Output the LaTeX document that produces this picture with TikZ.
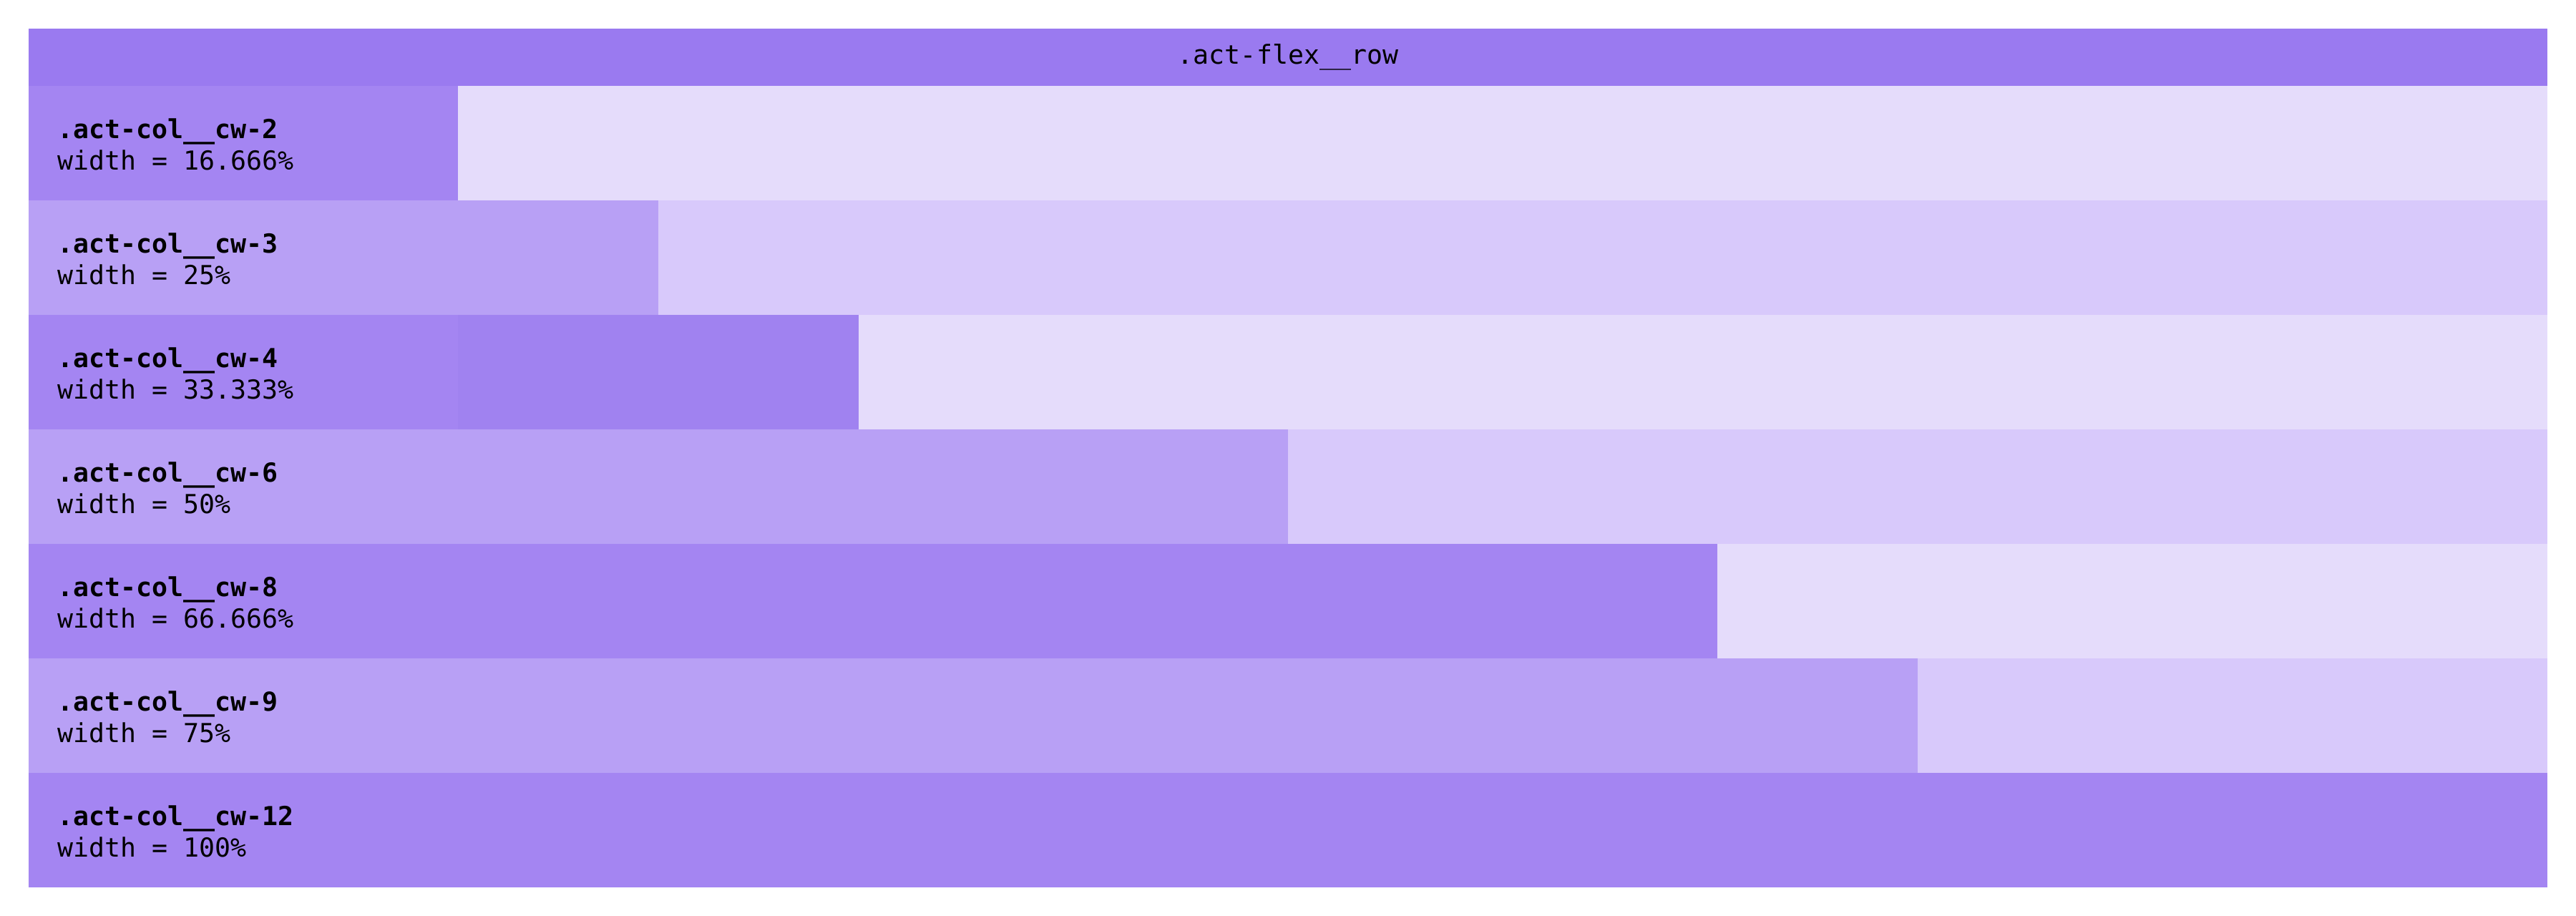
\documentclass[tikz,border=0pt]{standalone}
\usepackage{fontspec}
\setmonofont{DejaVu Sans Mono}
\usepackage{xcolor}
\usepackage{tikz}
\usetikzlibrary{positioning}

\definecolor{rowhead}{HTML}{9A7AF0}
\definecolor{colodd}{HTML}{A485F2}
\definecolor{coleven}{HTML}{B8A0F5}
\definecolor{colsplit}{HTML}{A082F0}
\definecolor{restodd}{HTML}{E5DCFB}
\definecolor{resteven}{HTML}{D8C9FB}

\begin{document}
\begin{tikzpicture}[every node/.style={font=\fontsize{10.4}{12.5}\selectfont\ttfamily, inner sep=0pt},
  lbl/.style={anchor=west, align=left}]
  \fill[white] (0,0) rectangle (36,12.8);
  \useasboundingbox (0,0) rectangle (36,12.8);
  % header row
  \fill[rowhead] (0.4,11.6) rectangle (35.6,12.4);
  \node (hdr) at (18,12.0) {.act-flex\_\_row};
  % column bars, one row each
  \fill[colodd]   (0.4,10.0) rectangle (6.4,11.6);  \fill[restodd]  (6.4,10.0) rectangle (35.6,11.6);
  \fill[coleven]  (0.4,8.4)  rectangle (9.2,10.0);  \fill[resteven] (9.2,8.4)  rectangle (35.6,10.0);
  \fill[colodd]   (0.4,6.8)  rectangle (6.4,8.4);   \fill[colsplit] (6.4,6.8)  rectangle (12.0,8.4);
  \fill[restodd]  (12.0,6.8) rectangle (35.6,8.4);
  \fill[coleven]  (0.4,5.2)  rectangle (18.0,6.8);  \fill[resteven] (18.0,5.2) rectangle (35.6,6.8);
  \fill[colodd]   (0.4,3.6)  rectangle (24.0,5.2);  \fill[restodd]  (24.0,3.6) rectangle (35.6,5.2);
  \fill[coleven]  (0.4,2.0)  rectangle (26.8,3.6);  \fill[resteven] (26.8,2.0) rectangle (35.6,3.6);
  \fill[colodd]   (0.4,0.4)  rectangle (35.6,2.0);
  % labels
  \node[lbl] (cw2)  at (0.8,10.78) {\textbf{.act-col\_\_cw-2}\\width = 16.666\%};
  \node[lbl] (cw3)  at (0.8,9.18)  {\textbf{.act-col\_\_cw-3}\\width = 25\%};
  \node[lbl] (cw4)  at (0.8,7.58)  {\textbf{.act-col\_\_cw-4}\\width = 33.333\%};
  \node[lbl] (cw6)  at (0.8,5.98)  {\textbf{.act-col\_\_cw-6}\\width = 50\%};
  \node[lbl] (cw8)  at (0.8,4.38)  {\textbf{.act-col\_\_cw-8}\\width = 66.666\%};
  \node[lbl] (cw9)  at (0.8,2.78)  {\textbf{.act-col\_\_cw-9}\\width = 75\%};
  \node[lbl] (cw12) at (0.8,1.18)  {\textbf{.act-col\_\_cw-12}\\width = 100\%};
\end{tikzpicture}
\end{document}
